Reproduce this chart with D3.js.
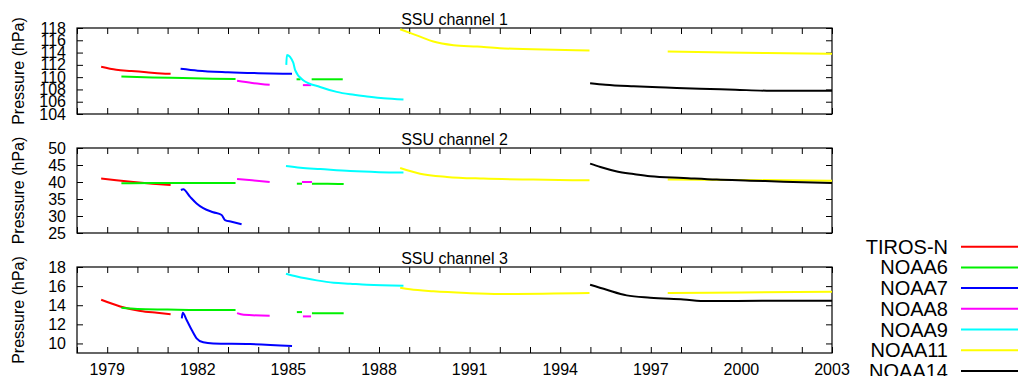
<!DOCTYPE html>
<html lang="en">
  <head>
    <meta charset="UTF-8" />
    <title>SSU channel pressures</title>
    <script src="https://d3js.org/d3.v7.min.js"></script>
    <style>
      body { margin: 0; background: #fff; }
      text { font-family: 'Liberation Sans', Arial, sans-serif; fill: #000; }
    </style>
  </head>
  <body>
    <div id="chart"></div>
    <script>
      // satellites and their line colours
      const satellites = ['TIROS-N', 'NOAA6', 'NOAA7', 'NOAA8', 'NOAA9', 'NOAA11', 'NOAA14']
      const satColors = ['#ff0000', '#00f000', '#0000ff', '#ff00ff', '#00ffff', '#ffff00', '#000000']

      const yearLabels = [1979, 1982, 1985, 1988, 1991, 1994, 1997, 2000, 2003]
      const yearDomain = [1978, 2003]

      // each satellite: list of segments, each segment [year, pressure]
      const ch1 = {
        'TIROS-N': [[[1978.8, 111.7], [1979.3, 111.2], [1979.8, 111.0], [1980.3, 110.8], [1980.8, 110.6], [1981.1, 110.55]]],
        NOAA6: [
          [[1979.47, 110.1], [1980.5, 109.95], [1981.5, 109.85], [1982.5, 109.75], [1983.25, 109.7]],
          [[1985.27, 109.65], [1985.4, 109.65]],
          [[1985.77, 109.65], [1986.3, 109.65], [1986.8, 109.65]]
        ],
        NOAA7: [[[1981.43, 111.35], [1982.0, 111.05], [1983.0, 110.8], [1984.0, 110.65], [1985.12, 110.55]]],
        NOAA8: [
          [[1983.3, 109.4], [1983.8, 109.05], [1984.38, 108.75]],
          [[1985.48, 108.7], [1985.75, 108.7]]
        ],
        NOAA9: [[[1984.93, 112.0], [1984.95, 113.6], [1985.16, 112.35], [1985.22, 111.2], [1985.49, 109.5], [1986.05, 108.4], [1986.6, 107.6], [1987.04, 107.2], [1987.6, 106.85], [1988.15, 106.55], [1988.81, 106.35]]],
        NOAA11: [
          [[1988.7, 117.8], [1989.36, 116.6], [1989.8, 115.8], [1990.47, 115.2], [1991.25, 114.97], [1992.0, 114.7], [1993.1, 114.55], [1994.97, 114.35]],
          [[1997.56, 114.16], [1999.5, 114.0], [2001.5, 113.9], [2003.0, 113.8]]
        ],
        NOAA14: [[[1994.99, 109.0], [1995.5, 108.75], [1996.43, 108.5], [1997.5, 108.3], [1998.63, 108.1], [1999.8, 107.95], [2000.84, 107.8], [2003.0, 107.8]]]
      }

      const ch2 = {
        'TIROS-N': [[[1978.8, 41.0], [1979.3, 40.5], [1979.87, 40.0], [1980.5, 39.5], [1981.1, 39.1]]],
        NOAA6: [
          [[1979.47, 39.6], [1980.5, 39.7], [1981.5, 39.7], [1982.5, 39.7], [1983.25, 39.7]],
          [[1985.28, 39.5], [1985.45, 39.5]],
          [[1985.78, 39.5], [1986.3, 39.5], [1986.83, 39.4]]
        ],
        NOAA7: [[[1981.44, 37.65], [1981.52, 37.85], [1981.74, 35.7], [1981.96, 33.7], [1982.18, 32.3], [1982.51, 31.1], [1982.79, 30.3], [1982.9, 28.8], [1983.12, 28.3], [1983.45, 27.55]]],
        NOAA8: [
          [[1983.3, 40.9], [1983.8, 40.5], [1984.38, 40.0]],
          [[1985.45, 40.0], [1985.78, 40.0]]
        ],
        NOAA9: [[[1984.92, 44.7], [1985.4, 44.2], [1986.06, 43.8], [1987.05, 43.2], [1988.0, 42.9], [1988.81, 42.8]]],
        NOAA11: [
          [[1988.7, 44.1], [1989.36, 42.45], [1990.25, 41.5], [1991.46, 41.0], [1993.1, 40.7], [1994.97, 40.5]],
          [[1997.56, 40.7], [2000.0, 40.6], [2003.0, 40.4]]
        ],
        NOAA14: [[[1994.99, 45.4], [1995.33, 44.4], [1995.88, 43.1], [1996.43, 42.35], [1996.98, 41.7], [1998.08, 41.2], [1999.18, 40.7], [2000.29, 40.4], [2001.39, 40.1], [2003.0, 39.7]]]
      }

      const ch3 = {
        'TIROS-N': [[[1978.8, 14.57], [1979.43, 13.87], [1980.1, 13.4], [1980.65, 13.2], [1981.1, 13.05]]],
        NOAA6: [
          [[1979.47, 13.73], [1980.0, 13.6], [1981.0, 13.55], [1982.0, 13.5], [1983.25, 13.5]],
          [[1985.28, 13.28], [1985.45, 13.28]],
          [[1985.78, 13.15], [1986.3, 13.15], [1986.83, 13.15]]
        ],
        NOAA7: [[[1981.47, 12.63], [1981.5, 13.22], [1981.63, 12.45], [1981.8, 11.4], [1981.96, 10.54], [1982.18, 10.12], [1982.51, 10.0], [1983.73, 9.94], [1985.12, 9.72]]],
        NOAA8: [
          [[1983.3, 13.17], [1983.52, 13.0], [1984.38, 12.9]],
          [[1985.48, 12.83], [1985.75, 12.83]]
        ],
        NOAA9: [[[1984.92, 17.3], [1985.28, 17.0], [1985.94, 16.6], [1986.5, 16.35], [1987.05, 16.25], [1987.6, 16.15], [1988.81, 16.05]]],
        NOAA11: [
          [[1988.7, 15.83], [1989.03, 15.66], [1989.8, 15.45], [1990.9, 15.27], [1992.0, 15.17], [1994.97, 15.27]],
          [[1997.56, 15.27], [2000.0, 15.34], [2003.0, 15.41]]
        ],
        NOAA14: [[[1994.99, 16.15], [1995.54, 15.62], [1996.2, 15.03], [1996.98, 14.78], [1998.08, 14.6], [1998.85, 14.43], [2000.84, 14.47], [2003.0, 14.47]]]
      }

      const ch1Ticks = [104, 106, 108, 110, 112, 114, 116, 118]
      const ch2Ticks = [25, 30, 35, 40, 45, 50]
      const ch3Ticks = [10, 12, 14, 16, 18]

      const panels = [
        { title: 'SSU channel 1', data: ch1, domain: [104, 118], ticks: ch1Ticks, top: 28, bottom: 114 },
        { title: 'SSU channel 2', data: ch2, domain: [25, 50], ticks: ch2Ticks, top: 148, bottom: 233 },
        { title: 'SSU channel 3', data: ch3, domain: [9, 18], ticks: ch3Ticks, top: 267, bottom: 353 }
      ]

      const width = 1018, height = 376
      const left = 77, right = 832

      const svg = d3.select('#chart').append('svg')
        .attr('width', width)
        .attr('height', height)

      const x = d3.scaleLinear().domain(yearDomain).range([left, right])
      const allYears = d3.range(yearDomain[0], yearDomain[1] + 1)
      const color = d3.scaleOrdinal().domain(satellites).range(satColors)

      panels.forEach((p, pi) => {
        const y = d3.scaleLinear().domain(p.domain).range([p.bottom, p.top])
        const g = svg.append('g')

        // ticks inward on all four sides
        g.append('g')
          .attr('transform', `translate(0,${p.bottom})`)
          .call(d3.axisBottom(x).tickValues(allYears).tickSize(-6).tickFormat(''))
        g.append('g')
          .attr('transform', `translate(0,${p.top})`)
          .call(d3.axisTop(x).tickValues(allYears).tickSize(-6).tickFormat(''))
        g.append('g')
          .attr('transform', `translate(${left},0)`)
          .call(d3.axisLeft(y).tickValues(p.ticks).tickSize(-6).tickPadding(11))
        g.append('g')
          .attr('transform', `translate(${right},0)`)
          .call(d3.axisRight(y).tickValues(p.ticks).tickSize(-6).tickFormat(''))
        g.selectAll('.domain').remove()
        g.selectAll('.tick line').attr('stroke', '#000')
        g.selectAll('.tick text')
          .attr('font-size', 16)
          .attr('font-family', "'Liberation Sans', Arial, sans-serif")

        // year labels only on the bottom panel
        if (pi === panels.length - 1) {
          g.selectAll('text.year')
            .data(yearLabels)
            .join('text')
            .attr('class', 'year')
            .attr('x', d => x(d))
            .attr('y', 375)
            .attr('text-anchor', 'middle')
            .attr('font-size', 16)
            .text(d => d)
        }

        // frame
        g.append('rect')
          .attr('x', left)
          .attr('y', p.top)
          .attr('width', right - left)
          .attr('height', p.bottom - p.top)
          .attr('fill', 'none')
          .attr('stroke', '#000')
          .attr('stroke-width', 1.2)

        g.append('text')
          .attr('x', (left + right) / 2)
          .attr('y', p.top - 3.5)
          .attr('text-anchor', 'middle')
          .attr('font-size', 16)
          .text(p.title)

        g.append('text')
          .attr('transform', `translate(24,${(p.top + p.bottom) / 2}) rotate(-90)`)
          .attr('text-anchor', 'middle')
          .attr('font-size', 16)
          .text('Pressure (hPa)')

        const line = d3.line()
          .x(d => x(d[0]))
          .y(d => y(d[1]))
          .curve(d3.curveMonotoneX)

        satellites.forEach(sat => {
          g.selectAll(null)
            .data(p.data[sat])
            .join('path')
            .attr('d', line)
            .attr('fill', 'none')
            .attr('stroke', color(sat))
            .attr('stroke-width', 2)
        })
      })

      // legend
      const legend = svg.append('g')
      satellites.forEach((sat, i) => {
        const ly = 246.7 + i * 20.7
        legend.append('text')
          .attr('x', 948)
          .attr('y', ly + 7)
          .attr('text-anchor', 'end')
          .attr('font-size', 20)
          .text(sat)
        legend.append('line')
          .attr('x1', 961)
          .attr('x2', 1018)
          .attr('y1', ly)
          .attr('y2', ly)
          .attr('stroke', color(sat))
          .attr('stroke-width', 2)
      })
    </script>
  </body>
</html>
